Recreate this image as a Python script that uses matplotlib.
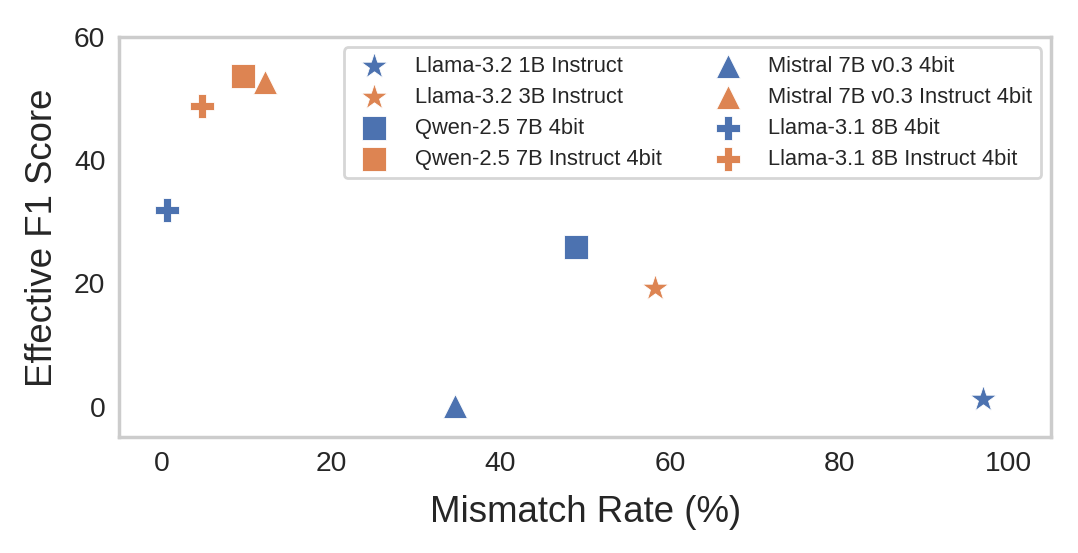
import matplotlib
matplotlib.use("Agg")
import matplotlib.pyplot as plt

plt.rcParams['font.family'] = ['Liberation Sans', 'DejaVu Sans']

# models, grouped as (base, instruct) pairs
models = [
    "Llama-3.2 1B Instruct",
    "Llama-3.2 3B Instruct",
    "Qwen-2.5 7B 4bit",
    "Qwen-2.5 7B Instruct 4bit",
    "Mistral 7B v0.3 4bit",
    "Mistral 7B v0.3 Instruct 4bit",
    "Llama-3.1 8B 4bit",
    "Llama-3.1 8B Instruct 4bit",
]
mismatch = [97.0, 58.3, 48.9, 9.6, 34.6, 12.2, 0.6, 4.8]
f1 = [1.2, 19.2, 26.0, 53.7, 0.1, 52.8, 31.9, 48.8]
markers = ["*", "*", "s", "s", "^", "^", "P", "P"]
colors = ["#4C72B0", "#DD8452"] * 4

fig = plt.figure(figsize=(5.39, 2.765), dpi=200)
ax = fig.add_axes([0.1107, 0.2092, 0.8643, 0.7233])

for i in range(len(models)):
    size = 100 if markers[i] == "*" else 74
    ax.scatter(mismatch[i], f1[i], marker=markers[i], color=colors[i], s=size,
               edgecolor="white", linewidth=0.3, label=models[i], zorder=3)

ax.set_xlim(-5, 105)
ax.set_ylim(-5, 60)
ax.set_xticks([0, 20, 40, 60, 80, 100])
ax.set_yticks([0, 20, 40, 60])
ax.tick_params(length=0, labelsize=10.2, labelcolor="#262626", pad=5)
for sp in ax.spines.values():
    sp.set_color("#cccccc")
    sp.set_linewidth(1.25)

ax.set_xlabel("Mismatch Rate (%)", fontsize=13.2, color="#262626", labelpad=6.5)
ax.set_ylabel("Effective F1 Score", fontsize=13.2, color="#262626", labelpad=5)

leg = ax.legend(ncol=2, loc="upper right", fontsize=7.9, markerscale=1.0,
                frameon=True, edgecolor="#cccccc", handletextpad=0.85,
                columnspacing=2.0, labelspacing=0.45, borderpad=0.4,
                borderaxespad=0.45)
for t in leg.get_texts():
    t.set_color("#262626")

fig.savefig("out.png", dpi=200)
